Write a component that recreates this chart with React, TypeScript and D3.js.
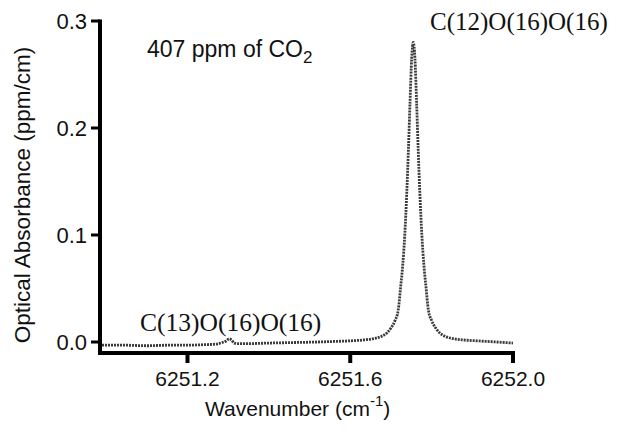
import React from "react";
import * as d3 from "d3";

// spectrum (wavenumber in cm-1, absorbance in ppm/cm)
const wavenumbers = [
  6250.99, 6251.05, 6251.1, 6251.15, 6251.2, 6251.24, 6251.27, 6251.285, 6251.295,
  6251.302, 6251.308, 6251.315, 6251.325, 6251.35, 6251.4, 6251.46, 6251.52, 6251.56,
  6251.595, 6251.635, 6251.655, 6251.675, 6251.69, 6251.7, 6251.71, 6251.718, 6251.724,
  6251.729, 6251.734, 6251.739, 6251.743, 6251.747, 6251.751, 6251.755, 6251.759,
  6251.763, 6251.767, 6251.771, 6251.776, 6251.781, 6251.786, 6251.792, 6251.8, 6251.81,
  6251.82, 6251.835, 6251.855, 6251.875, 6251.915, 6251.96, 6252.0,
];
const absorbance = [
  -0.003, -0.003, -0.0035, -0.003, -0.003, -0.0025, -0.002, -0.0005, 0.001,
  0.003, 0.002, -0.001, -0.0015, -0.0015, -0.001, -0.0005, 0.0, 0.0005,
  0.001, 0.002, 0.003, 0.005, 0.0085, 0.013, 0.02, 0.03, 0.052,
  0.072, 0.1, 0.14, 0.18, 0.225, 0.265, 0.28, 0.265,
  0.225, 0.18, 0.14, 0.1, 0.072, 0.052, 0.03, 0.02, 0.013,
  0.0085, 0.005, 0.003, 0.002, 0.001, 0.0, -0.001,
];

const xTicks = [6251.2, 6251.6, 6252.0];
const yTicks = [0.0, 0.1, 0.2, 0.3];

const W = 619;
const H = 448;

export default function App() {
  const x = d3.scaleLinear().domain([6250.985, 6252.0]).range([100, 513]);
  const y = d3.scaleLinear().domain([0, 0.3]).range([342, 21]);

  const pts: [number, number][] = wavenumbers.map((w, i) => [w, absorbance[i]]);
  const line = d3
    .line<[number, number]>()
    .x((d) => x(d[0]))
    .y((d) => y(d[1]))
    .curve(d3.curveMonotoneX);

  const sans = "'Liberation Sans', Arial, sans-serif";
  const serif = "'Liberation Serif', 'Times New Roman', serif";
  const axisY = 353;

  return (
    <svg
      width={W}
      height={H}
      style={{ position: "absolute", left: 0, top: 0, background: "#fff" }}
    >
      {/* trace */}
      <path
        d={line(pts) || ""}
        fill="none"
        stroke="#3a3a3a"
        strokeWidth={2.8}
        strokeDasharray="2 1"
      />

      {/* y axis */}
      <line x1={100} x2={100} y1={y(0.3) - 1.5} y2={axisY + 2} stroke="#000" strokeWidth={4} />
      {yTicks.map((t) => (
        <g key={t}>
          <line x1={91} x2={100} y1={y(t)} y2={y(t)} stroke="#000" strokeWidth={3} />
          <text
            x={87}
            y={y(t) + 8}
            textAnchor="end"
            fontFamily={sans}
            fontSize={22}
            fill="#111"
          >
            {t.toFixed(1)}
          </text>
        </g>
      ))}

      {/* x axis */}
      <line x1={98} x2={515} y1={axisY} y2={axisY} stroke="#000" strokeWidth={4} />
      {xTicks.map((t) => (
        <g key={t}>
          <line x1={x(t)} x2={x(t)} y1={axisY} y2={axisY + 10} stroke="#000" strokeWidth={4} />
          <text
            x={x(t)}
            y={386}
            textAnchor="middle"
            fontFamily={sans}
            fontSize={21}
            fill="#111"
          >
            {t.toFixed(1)}
          </text>
        </g>
      ))}

      {/* axis titles */}
      <text x={205} y={416} fontFamily={sans} fontSize={21} fill="#111">
        Wavenumber (cm
        <tspan fontSize={15} dy={-10}>-1</tspan>
        <tspan dy={10}>)</tspan>
      </text>
      <text
        transform={`translate(30,${195}) rotate(-90)`}
        textAnchor="middle"
        fontFamily={sans}
        fontSize={22.5}
        fill="#111"
      >
        Optical Absorbance (ppm/cm)
      </text>

      {/* annotations */}
      <text x={147} y={57} fontFamily={sans} fontSize={23} fill="#111">
        407 ppm of CO
        <tspan fontSize={17} dy={6}>2</tspan>
      </text>
      <text x={430} y={30} fontFamily={serif} fontSize={25} fill="#111">
        C(12)O(16)O(16)
      </text>
      <text x={140} y={331} fontFamily={serif} fontSize={25.5} fill="#111">
        C(13)O(16)O(16)
      </text>
    </svg>
  );
}
